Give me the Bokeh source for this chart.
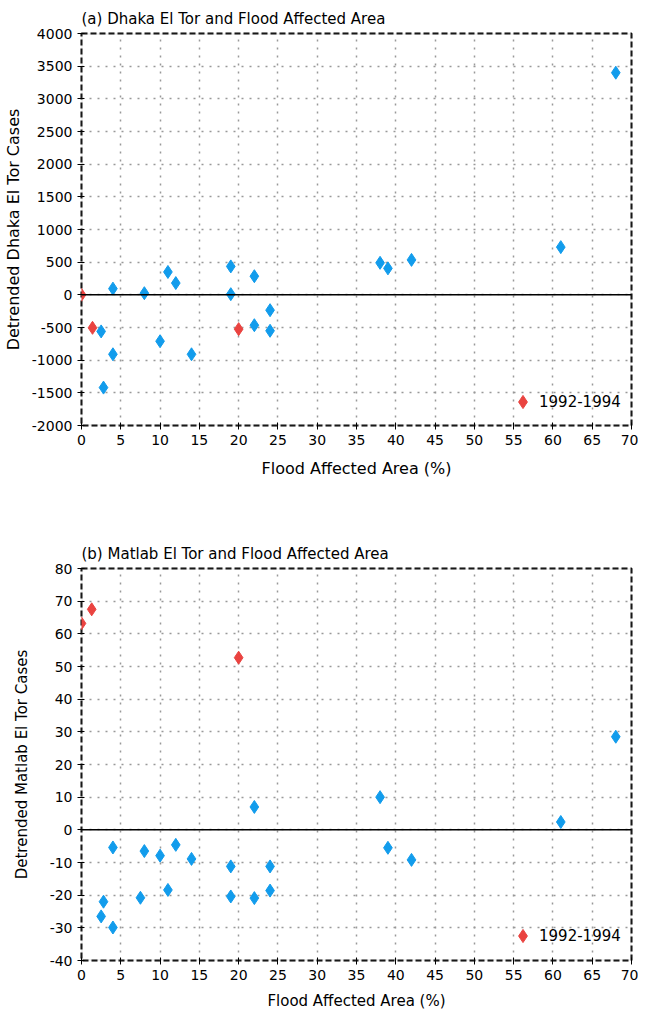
from bokeh.plotting import figure
from bokeh.models import Span, Legend, LegendItem, FixedTicker, PrintfTickFormatter, BoxAnnotation
from bokeh.layouts import column
from bokeh.embed import file_html
from bokeh.resources import INLINE

FONT = "DejaVu Sans"
BLUE = "#129cec"
RED = "#ea4340"

# Panel (a) Dhaka
a_blue_x = [2.5, 2.8, 4, 4, 8, 10, 11, 12, 14, 19, 19, 22, 22, 24, 24, 38, 39, 42, 61, 68]
a_blue_y = [-560, -1420, 95, -910, 25, -710, 350, 180, -910, 435, 10, 285, -465, -235, -550, 490, 405, 535, 730, 3400]
a_red_x = [0, 1.4, 20]
a_red_y = [0, -505, -525]

# Panel (b) Matlab
b_blue_x = [2.5, 2.8, 4, 4, 7.5, 8, 10, 11, 12, 14, 19, 19, 22, 22, 24, 24, 38, 39, 42, 61, 68]
b_blue_y = [-26.5, -22, -5.4, -29.9, -20.8, -6.5, -7.9, -18.4, -4.6, -8.9, -11.2, -20.4, 7.0, -20.9, -11.2, -18.6, 10, -5.5, -9.2, 2.4, 28.5]
b_red_x = [0, 1.3, 20]
b_red_y = [63.2, 67.5, 52.7]

x_ticks = list(range(0, 75, 5))
a_y_ticks = list(range(-2000, 4500, 500))
b_y_ticks = list(range(-40, 90, 10))

legend_label = "1992-1994"


def make_panel(title, ylabel, bx, by, rx, ry, yticks, yrange, height, top, bottom,
               ylab_size, xlab_size, ylab_standoff, xlab_standoff, legend_loc):
    p = figure(width=638, height=height, x_range=(0, 70), y_range=yrange,
               output_backend="svg", toolbar_location=None,
               min_border_left=79, min_border_right=7,
               min_border_top=top, min_border_bottom=bottom)
    p.title.text = title
    p.title.text_font = FONT
    p.title.text_font_size = "15px"
    p.title.text_font_style = "normal"
    p.title.text_color = "black"
    p.title.offset = 0
    p.title.standoff = 11

    p.xaxis.ticker = FixedTicker(ticks=x_ticks)
    p.yaxis.ticker = FixedTicker(ticks=yticks)
    p.xaxis.formatter = PrintfTickFormatter(format="%d")
    p.yaxis.formatter = PrintfTickFormatter(format="%d")
    p.xaxis.axis_label = "Flood Affected Area (%)"
    p.yaxis.axis_label = ylabel
    for ax in (p.xaxis, p.yaxis):
        ax.axis_label_text_font = FONT
        ax.axis_label_text_font_style = "normal"
        ax.axis_label_text_color = "black"
        ax.major_label_text_font = FONT
        ax.major_label_text_font_size = "14px"
        ax.major_label_text_color = "black"
        ax.minor_tick_line_color = None
        ax.major_tick_out = 4
        ax.major_tick_in = 3
        ax.major_tick_line_color = "black"
        ax.axis_line_color = None
        ax.major_label_standoff = 5
    p.xaxis.axis_label_text_font_size = xlab_size
    p.yaxis.axis_label_text_font_size = ylab_size
    p.xaxis.axis_label_standoff = xlab_standoff
    p.yaxis.axis_label_standoff = ylab_standoff

    p.grid.grid_line_color = "#999999"
    p.grid.grid_line_dash = "2 6"
    p.grid.grid_line_width = 1.5

    # grey edge under the dashed frame
    p.add_layout(BoxAnnotation(fill_alpha=0, line_color="#a0a0a0", line_width=2,
                               level="underlay"))

    p.outline_line_color = "black"
    p.outline_line_dash = "6 3"
    p.outline_line_width = 2
    p.outline_line_alpha = 1

    p.add_layout(Span(location=0, dimension="width", line_color="black", line_width=1.5))

    p.scatter(bx, by, marker="diamond", size=13, fill_color=BLUE, line_color=BLUE)
    r = p.scatter(rx, ry, marker="diamond", size=13, fill_color=RED, line_color=RED)

    leg = Legend(items=[LegendItem(label=legend_label, renderers=[r])],
                 location=legend_loc, border_line_color=None,
                 background_fill_alpha=0, padding=0, margin=0,
                 glyph_width=33, glyph_height=33, label_standoff=-8,
                 label_text_font=FONT, label_text_font_size="15px",
                 label_text_color="black")
    p.add_layout(leg)
    return p


p1 = make_panel("(a) Dhaka El Tor and Flood Affected Area", "Detrended Dhaka El Tor Cases",
                a_blue_x, a_blue_y, a_red_x, a_red_y, a_y_ticks, (-2000, 4000),
                535, 33, 110, "16px", "16px", 6, 11, (425, 7))
p2 = make_panel("(b) Matlab El Tor and Flood Affected Area", "Detrended Matlab El Tor Cases",
                b_blue_x, b_blue_y, b_red_x, b_red_y, b_y_ticks, (-40, 80),
                479, 33, 54, "15px", "15px", 16, 9, (425, 8))

layout = column(p1, p2, spacing=0)
open("out.html", "w").write(file_html(layout, INLINE))
